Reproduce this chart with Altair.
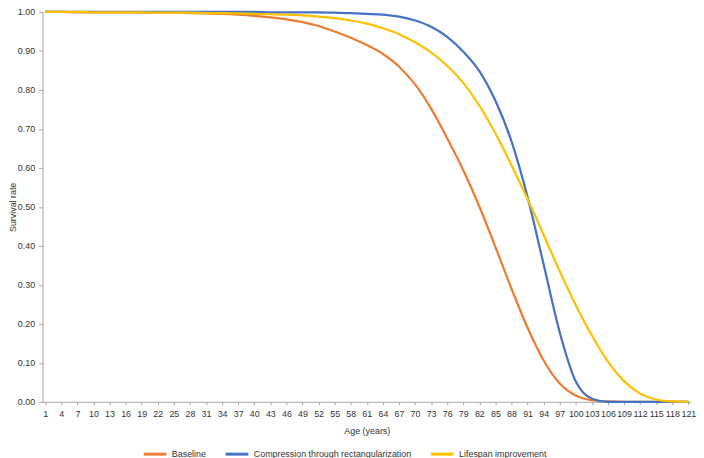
import altair as alt
import pandas as pd

ages = list(range(1, 122, 3))
baseline = [1.000, 1.000, 0.999, 0.999, 0.999, 0.999, 0.998, 0.998, 0.998, 0.997,
            0.996, 0.995, 0.993, 0.990, 0.986, 0.981, 0.974, 0.964, 0.950, 0.934,
            0.915, 0.892, 0.860, 0.814, 0.752, 0.676, 0.594, 0.501, 0.397, 0.290,
            0.190, 0.106, 0.047, 0.016, 0.004, 0.001, 0.000, 0.000, 0.000, 0.000, 0.000]
compression = [1.000, 1.000, 1.000, 1.000, 1.000, 1.000, 1.000, 1.000, 1.000, 1.000,
               1.000, 1.000, 1.000, 1.000, 0.999, 0.999, 0.999, 0.999, 0.998, 0.997,
               0.995, 0.993, 0.988, 0.978, 0.962, 0.936, 0.898, 0.848, 0.772, 0.668,
               0.525, 0.352, 0.178, 0.052, 0.008, 0.000, 0.000, 0.000, 0.000, 0.000, 0.000]
lifespan = [1.000, 1.000, 1.000, 0.999, 0.999, 0.999, 0.999, 0.998, 0.998, 0.998,
            0.997, 0.997, 0.996, 0.995, 0.994, 0.993, 0.991, 0.988, 0.984, 0.978,
            0.970, 0.958, 0.943, 0.922, 0.896, 0.862, 0.818, 0.760, 0.688, 0.607,
            0.520, 0.428, 0.335, 0.248, 0.170, 0.103, 0.053, 0.021, 0.006, 0.001, 0.000]

series_names = ["Baseline", "Compression through rectangularization", "Lifespan improvement"]
series_colors = ["#ED7D31", "#4472C4", "#FFC000"]

rows = []
for name, vals in zip(series_names, [baseline, compression, lifespan]):
    for a, v in zip(ages, vals):
        rows.append({"age": a, "rate": v, "series": name})
df = pd.DataFrame(rows)

FONT = "Liberation Sans"

chart = alt.Chart(df).mark_line(strokeWidth=2.25, interpolate="monotone").encode(
    x=alt.X("age:Q",
            scale=alt.Scale(domain=[0.5, 121.5], nice=False, zero=False),
            axis=alt.Axis(title="Age (years)", values=ages, format="d",
                          grid=False, tickSize=3, labelPadding=5, titlePadding=8,
                          labelFlush=False, labelOverlap=False)),
    y=alt.Y("rate:Q",
            scale=alt.Scale(domain=[0, 1], nice=False),
            axis=alt.Axis(title="Survival rate", values=[i / 10 for i in range(11)],
                          format=".2f", grid=False, tickSize=4, labelPadding=4,
                          titlePadding=0, labelFlush=False)),
    color=alt.Color("series:N",
                    scale=alt.Scale(domain=series_names, range=series_colors),
                    legend=alt.Legend(title=None, orient="none", direction="horizontal",
                                      legendX=101, legendY=435,
                                      symbolType="stroke", symbolSize=529,
                                      symbolStrokeWidth=3, labelOffset=4,
                                      columnPadding=13)),
    order="age:Q",
).properties(
    width=657, height=395, padding={"left": 0, "top": -4, "right": 0, "bottom": 0}
).configure_view(stroke=None).configure_axis(
    domainColor="#a6a6a6", tickColor="#a6a6a6", labelColor="#333333",
    titleColor="#333333", labelFont=FONT, titleFont=FONT, labelFontSize=9,
    titleFontSize=9, titleFontWeight="normal"
).configure_legend(
    labelFont=FONT, labelFontSize=9, labelColor="#333333"
)

chart.save("out.html", embed_options={"renderer": "svg", "actions": False})
